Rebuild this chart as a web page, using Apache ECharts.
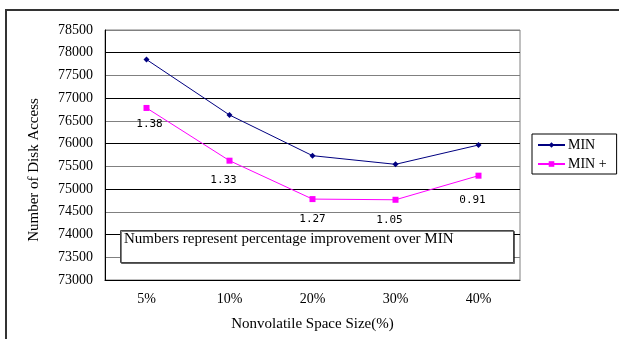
<!DOCTYPE html>
<html>
<head>
<meta charset="utf-8">
<script src="https://cdn.jsdelivr.net/npm/echarts@6/dist/echarts.min.js"></script>
<style>
  html, body { margin: 0; padding: 0; background: #fff; }
  #chart { width: 619px; height: 339px; }
</style>
</head>
<body>
<div id="chart"></div>
<script>
// chart data
const categories = ["5%", "10%", "20%", "30%", "40%"];
const minValues = [77850, 76630, 75735, 75545, 75970];
const minPlusValues = [76785, 75625, 74780, 74765, 75295];
const improvements = ["1.38", "1.33", "1.27", "1.05", "0.91"];

// label offsets below the MIN + points (style only)
const labelOffsets = [[3, 2], [-6, 5], [0, 6], [-6, 6], [-6, 10]];

const serif = "'Liberation Serif', 'Times New Roman', serif";

const chart = echarts.init(document.getElementById("chart"));

const option = {
  backgroundColor: "#fff",
  animation: false,
  grid: {
    left: 105,
    top: 30,
    right: 99,
    bottom: 59,
    outerBoundsMode: "none",
    show: true,
    borderColor: "#808080",
    borderWidth: 1
  },
  legend: {
    orient: "vertical",
    left: 532,
    top: 134,
    width: 84,
    itemWidth: 27,
    itemHeight: 7,
    itemGap: 5,
    padding: [4, 10, 3, 5],
    borderColor: "#000",
    borderWidth: 1,
    textStyle: { fontFamily: serif, fontSize: 14, color: "#000", padding: [0, 0, 0, -2] },
    data: ["MIN", "MIN +"]
  },
  xAxis: {
    type: "category",
    data: categories,
    boundaryGap: true,
    name: "Nonvolatile Space Size(%)",
    nameLocation: "middle",
    nameGap: 37,
    nameTextStyle: { fontFamily: serif, fontSize: 15, color: "#000" },
    axisLine: { lineStyle: { color: "#000", width: 1 } },
    axisTick: { inside: true, length: 4, lineStyle: { color: "#000" } },
    axisLabel: { fontFamily: serif, fontSize: 14, color: "#000", margin: 12 },
    splitLine: { show: false }
  },
  yAxis: {
    type: "value",
    min: 73000,
    max: 78500,
    interval: 500,
    name: "Number of Disk Access",
    nameLocation: "middle",
    nameGap: 63,
    nameTextStyle: { fontFamily: serif, fontSize: 15, color: "#000", padding: [0, 30, 0, 0] },
    axisLine: { show: true, lineStyle: { color: "#000", width: 1 } },
    axisTick: { show: false },
    axisLabel: { fontFamily: serif, fontSize: 14, color: "#000", margin: 12, formatter: v => String(v) },
    splitLine: { lineStyle: { color: ["#000", "#808080"], width: 1 } }
  },
  graphic: [
    // outer frame (top and left edges)
    { type: "line", shape: { x1: 5, y1: 10, x2: 619, y2: 10 }, style: { stroke: "#333", lineWidth: 2 }, z: 100 },
    { type: "line", shape: { x1: 6, y1: 10, x2: 6, y2: 339 }, style: { stroke: "#333", lineWidth: 2 }, z: 100 },
    // note box
    {
      type: "rect",
      shape: { x: 120.5, y: 230.5, width: 393, height: 32 },
      style: { fill: "#fff", stroke: "#444", lineWidth: 1, shadowColor: "rgba(0,0,0,0.5)", shadowOffsetX: 1, shadowOffsetY: 1 },
      z: 50
    },
    {
      type: "text",
      left: 124,
      top: 232,
      style: { text: "Numbers represent percentage improvement over MIN", font: "15px " + serif, fill: "#000" },
      z: 51
    }
  ],
  series: [
    {
      name: "MIN",
      type: "line",
      data: minValues,
      symbol: "diamond",
      symbolSize: 6,
      itemStyle: { color: "#000080" },
      lineStyle: { color: "#000080", width: 1 }
    },
    {
      name: "MIN +",
      type: "line",
      data: minPlusValues.map((v, i) => ({
        value: v,
        label: { offset: labelOffsets[i] }
      })),
      symbol: "rect",
      symbolSize: 6,
      itemStyle: { color: "#ff00ff" },
      lineStyle: { color: "#ff00ff", width: 1 },
      label: {
        show: true,
        position: "bottom",
        distance: 6,
        fontFamily: "'DejaVu Sans Mono', monospace",
        fontSize: 11,
        color: "#000",
        formatter: p => improvements[p.dataIndex]
      }
    }
  ]
};

chart.setOption(option);
</script>
</body>
</html>
